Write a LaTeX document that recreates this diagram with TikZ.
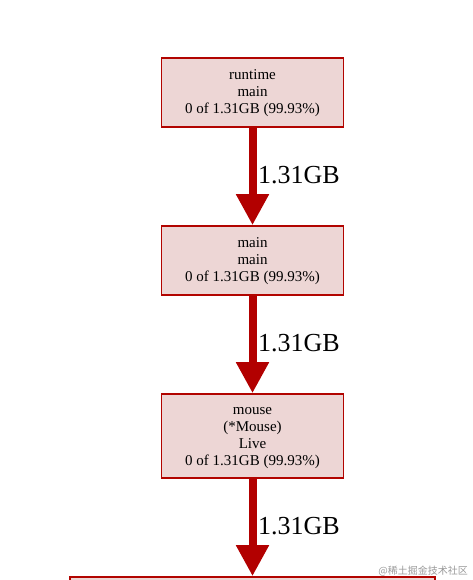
\documentclass[tikz,border=0pt]{standalone}
\usepackage{fontspec}
\setmainfont{Liberation Serif}
\newfontfamily\cjk{Noto Sans CJK SC}
\usetikzlibrary{arrows.meta}
\definecolor{fnfill}{HTML}{EDD6D5}
\definecolor{fnline}{HTML}{B20400}
\definecolor{flowred}{HTML}{B20000}
\begin{document}
\begin{tikzpicture}[x=1pt, y=-1pt,
  fn/.style={draw=fnline, fill=fnfill, line width=1.6pt, align=center,
    minimum width=182pt, inner sep=0pt, font=\fontsize{15}{17}\selectfont},
  flow/.style={draw=flowred, line width=8pt,
    -{Triangle[length=31pt, width=31pt]}},
  amount/.style={right, inner sep=0pt, xshift=1.5pt, font=\fontsize{26}{26}\selectfont}]
  \useasboundingbox (0,0) rectangle (472,580);
  \clip (0,0) rectangle (472,580);
  % 节点
  \node[fn, minimum height=69pt] (rtmain) at (252.5,92.5) {\strut runtime\\main\\0 of 1.31GB (99.93\%)};
  \node[fn, minimum height=69pt] (mainmain) at (252.5,260.5) {\strut main\\main\\0 of 1.31GB (99.93\%)};
  \node[fn, minimum height=84pt] (mouselive) at (252.5,436) {\strut mouse\\(*Mouse)\\Live\\0 of 1.31GB (99.93\%)};
  \node[fn, minimum width=365pt, minimum height=80pt] (next) at (252.5,617) {};
  % 边
  \draw[flow] (rtmain) -- (mainmain) node[amount, pos=0.49] {1.31GB};
  \draw[flow] (mainmain) -- (mouselive) node[amount, pos=0.49] {1.31GB};
  \draw[flow] (mouselive) -- (next) node[amount, pos=0.49] {1.31GB};
  % 水印
  \node[anchor=east, inner sep=0pt, text=black!40, font=\cjk\fontsize{10}{10}\selectfont] (mark) at (468,571) {@稀土掘金技术社区};
\end{tikzpicture}
\end{document}
